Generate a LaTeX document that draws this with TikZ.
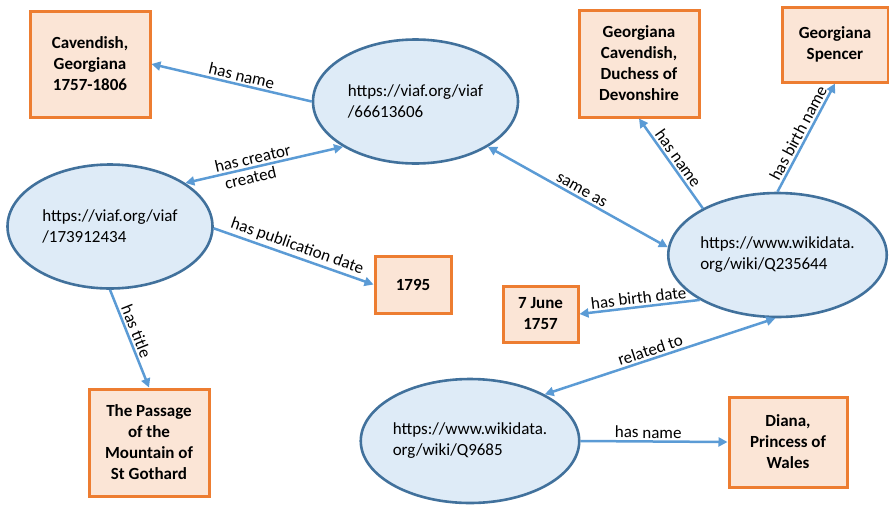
\documentclass[tikz,border=0pt]{standalone}
\usepackage{fontspec}
\setmainfont{Carlito}
\usetikzlibrary{shapes.geometric,arrows.meta}
\definecolor{ellfill}{HTML}{DEEBF7}
\definecolor{elldraw}{HTML}{41719C}
\definecolor{boxfill}{HTML}{FBE5D6}
\definecolor{boxdraw}{HTML}{ED7D31}
\definecolor{linkcol}{HTML}{5B9BD5}
\tikzset{
  res/.style={ellipse,draw=elldraw,fill=ellfill,line width=2.6pt,minimum width=205pt,minimum height=124pt,inner sep=0pt,align=left,font=\fontsize{17}{21}\selectfont},
  lit/.style={rectangle,draw=boxdraw,fill=boxfill,line width=3pt,inner sep=0pt,align=center,font=\fontsize{17}{21}\selectfont\bfseries},
  link/.style={draw=linkcol,line width=2.5pt,-{Triangle[length=9pt,width=9pt]}},
  link2/.style={draw=linkcol,line width=2.5pt,{Triangle[length=9pt,width=9pt]}-{Triangle[length=9pt,width=9pt]}},
  lab/.style={font=\fontsize{17}{21}\selectfont,sloped,inner sep=2pt}
}
\begin{document}
\begin{tikzpicture}[x=1pt,y=-1pt]
\useasboundingbox (0,0) rectangle (889,504);
% resources
\node[res] (e1) at (415.5,101.5) {https://viaf.org/viaf\\/66613606};
\node[res] (e2) at (110,226.5) {https://viaf.org/viaf\\/173912434};
\node[res] (e3) at (777.5,255) {https://www.wikidata.\\org/wiki/Q235644};
\node[res] (e4) at (470,441) {https://www.wikidata.\\org/wiki/Q9685};
% literals
\node[lit,minimum width=120pt,minimum height=106pt] (b1) at (90,64) {Cavendish,\\Georgiana\\1757-1806};
\node[lit,minimum width=76pt,minimum height=57pt] (b2) at (413,284.5) {1795};
\node[lit,minimum width=120pt,minimum height=107pt] (b3) at (149,442.5) {The Passage\\of the\\Mountain of\\St Gothard};
\node[lit,minimum width=120pt,minimum height=107pt] (b4) at (639,63.5) {Georgiana\\Cavendish,\\Duchess of\\Devonshire};
\node[lit,minimum width=106pt,minimum height=75pt] (b5) at (835,44.5) {Georgiana\\Spencer};
\node[lit,minimum width=75pt,minimum height=56pt] (b6) at (540.5,314) {7 June\\1757};
\node[lit,minimum width=118pt,minimum height=90pt] (b7) at (788,442) {Diana,\\Princess of\\Wales};
% connectors
\draw[link] (e1.180) -- node[lab,above,pos=0.45] {has name} (b1.east);
\draw[link2] (e1.212) -- node[lab,above,pos=0.56] {has creator} node[lab,below,pos=0.6] {created} (e2.30.7);
\draw[link] (e2.359) -- node[lab,above,pos=0.5] {has publication date} (b2.west);
\draw[link] (e2.270) -- node[lab,above,pos=0.46] {has title} (b3.north);
\draw[link2] (e1.328) -- node[lab,above,pos=0.5] {same as} (e3.176);
\draw[link] (e3.148) -- node[lab,above,pos=0.5] {has name} (b4.south);
\draw[link] (e3.90) -- node[lab,above,pos=0.5] {has birth name} (b5.south);
\draw[link] (e3.210.7) -- node[lab,above,pos=0.5] {has birth date} (b6.east);
\draw[link2] (e3.268) -- node[lab,above,pos=0.53] {related to} (e4.32.8);
\draw[link] (e4.0) -- node[lab,above,pos=0.46] {has name} (b7.west);
\end{tikzpicture}
\end{document}
